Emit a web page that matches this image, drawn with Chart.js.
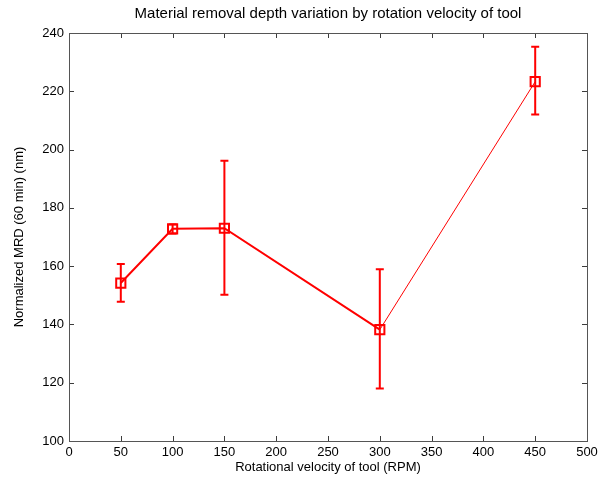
<!DOCTYPE html>
<html>
<head>
<meta charset="utf-8">
<script src="https://cdn.jsdelivr.net/npm/chart.js@4"></script>
<style>
  html, body { margin: 0; padding: 0; background: #fff; }
  #wrap { width: 608px; height: 488px; }
</style>
</head>
<body>
<div id="wrap"><canvas id="mrdChart" width="608" height="488"></canvas></div>
<script>
// values
const rpm = [50, 100, 150, 300, 450];
const mrd = [154.2, 172.8, 173, 138.2, 223.3];
const errLow = [147.8, 171.2, 150.2, 118, 212];
const errHigh = [160.7, 174.3, 196.2, 158.9, 235.3];

const xTicks = [0, 50, 100, 150, 200, 250, 300, 350, 400, 450, 500];
const yTicks = [100, 120, 140, 160, 180, 200, 220, 240];

const titleText = 'Material removal depth variation by rotation velocity of tool';

const RED = '#ff0000';
const FONT = '"Liberation Sans", Arial, sans-serif';

// error bars with caps
const errorBars = {
    id: 'errorBars',
    afterDatasetsDraw(chart) {
        const { ctx, scales: { x, y } } = chart;
        ctx.save();
        ctx.strokeStyle = RED;
        ctx.lineWidth = 2;
        rpm.forEach((v, i) => {
            const px = x.getPixelForValue(v);
            const lo = y.getPixelForValue(errLow[i]);
            const hi = y.getPixelForValue(errHigh[i]);
            ctx.beginPath();
            ctx.moveTo(px, lo); ctx.lineTo(px, hi);
            ctx.moveTo(px - 4, lo); ctx.lineTo(px + 4, lo);
            ctx.moveTo(px - 4, hi); ctx.lineTo(px + 4, hi);
            ctx.stroke();
        });
        ctx.restore();
    }
};

// matlab style box with inward ticks on all sides, title centred over the axes
const axesBox = {
    id: 'axesBox',
    beforeDatasetsDraw(chart) {
        const { ctx, chartArea: a, scales: { x, y } } = chart;
        ctx.save();
        ctx.strokeStyle = '#3c3c3c';
        ctx.lineWidth = 1;
        ctx.beginPath();
        xTicks.forEach(t => {
            const px = Math.round(x.getPixelForValue(t)) + 0.5;
            ctx.moveTo(px, a.bottom); ctx.lineTo(px, a.bottom - 5);
            ctx.moveTo(px, a.top); ctx.lineTo(px, a.top + 5);
        });
        yTicks.forEach(t => {
            const py = Math.round(y.getPixelForValue(t)) + 0.5;
            ctx.moveTo(a.left, py); ctx.lineTo(a.left + 5, py);
            ctx.moveTo(a.right, py); ctx.lineTo(a.right - 5, py);
        });
        ctx.stroke();
        ctx.strokeStyle = '#555';
        ctx.strokeRect(Math.round(a.left) + 0.5, Math.round(a.top) + 0.5,
            Math.round(a.right - a.left), Math.round(a.bottom - a.top));

        ctx.fillStyle = '#000';
        ctx.font = '15px ' + FONT;
        ctx.textAlign = 'center';
        ctx.textBaseline = 'middle';
        ctx.fillText(titleText, (a.left + a.right) / 2, 14);
        ctx.restore();
    }
};

new Chart(document.getElementById('mrdChart').getContext('2d'), {
    type: 'line',
    data: {
        datasets: [{
            data: rpm.map((v, i) => ({ x: v, y: mrd[i] })),
            borderColor: RED,
            borderWidth: 2,
            backgroundColor: 'transparent',
            pointStyle: 'rect',
            pointRadius: 6.5,
            pointBorderWidth: 2,
            pointBorderColor: RED,
            pointBackgroundColor: 'transparent',
            tension: 0,
            segment: { borderWidth: c => c.p0DataIndex === 3 ? 1 : 2 }
        }]
    },
    options: {
        responsive: false,
        animation: false,
        layout: { padding: { left: 0, right: 21, top: 33, bottom: 0 } },
        plugins: {
            legend: { display: false },
            tooltip: { enabled: false },
            title: { display: false }
        },
        scales: {
            x: {
                type: 'linear',
                min: 0, max: 500,
                afterBuildTicks: s => { s.ticks = xTicks.map(v => ({ value: v })); },
                afterFit: s => { s.height = 47; },
                grid: { display: false, drawTicks: false },
                border: { display: false },
                ticks: { color: '#000', padding: 4, maxRotation: 0, font: { family: FONT, size: 13 } },
                title: {
                    display: true,
                    text: 'Rotational velocity of tool (RPM)',
                    color: '#000',
                    font: { family: FONT, size: 13 },
                    padding: { top: 0, bottom: 13 }
                }
            },
            y: {
                min: 100, max: 240,
                afterBuildTicks: s => { s.ticks = yTicks.map(v => ({ value: v })); },
                afterFit: s => { s.width = 69; },
                grid: { display: false, drawTicks: false },
                border: { display: false },
                ticks: { color: '#000', padding: 5, font: { family: FONT, size: 13 } },
                title: {
                    display: true,
                    text: 'Normalized MRD (60 min) (nm)',
                    color: '#000',
                    font: { family: FONT, size: 13 },
                    padding: { top: 12, bottom: 0 }
                }
            }
        }
    },
    plugins: [axesBox, errorBars]
});
</script>
</body>
</html>
